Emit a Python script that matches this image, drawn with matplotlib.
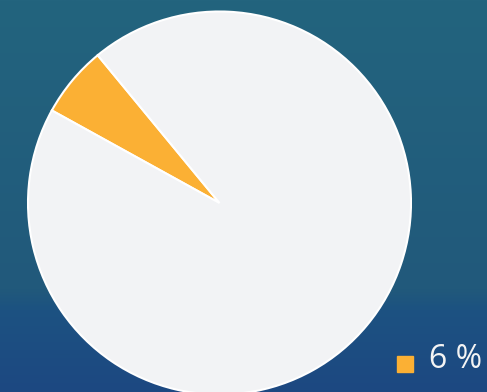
import numpy as np
import matplotlib.pyplot as plt
from matplotlib.colors import LinearSegmentedColormap

# pie data
values = [6, 94]
colors = ['#fbb034', '#f2f3f5']
legend_labels = ['6 %']

W, H = 487, 392
fig = plt.figure(figsize=(W / 100, H / 100), dpi=100)
ax = fig.add_axes([0, 0, 1, 1])

# background gradient, top to bottom
bg = LinearSegmentedColormap.from_list('bg', [
    (0.0, '#23647e'),
    (0.74, '#21597b'),
    (0.79, '#1c5281'),
    (1.0, '#1d4881'),
])
grad = np.linspace(0, 1, 256).reshape(-1, 1)
ax.imshow(grad, cmap=bg, aspect='auto', extent=[0, W, 0, H], origin='upper', zorder=0)

ax.pie(values, colors=colors, startangle=129.5, counterclock=True,
       center=(219.5, H - 203), radius=191.5,
       wedgeprops=dict(edgecolor='white', linewidth=1.5), frame=False)

ax.set_xlim(0, W)
ax.set_ylim(0, H)
ax.set_aspect('auto')
ax.axis('off')

# legend item (cut at the right edge, as in the original)
ax.add_patch(plt.Rectangle((397, H - 372), 16, 16, color=colors[0], zorder=5))
ax.text(429, H - 360, legend_labels[0], fontsize=23, color='#f4f4f4',
        family=['Open Sans', 'DejaVu Sans'], va='center', ha='left', zorder=5)

fig.savefig('out.png', dpi=100)
